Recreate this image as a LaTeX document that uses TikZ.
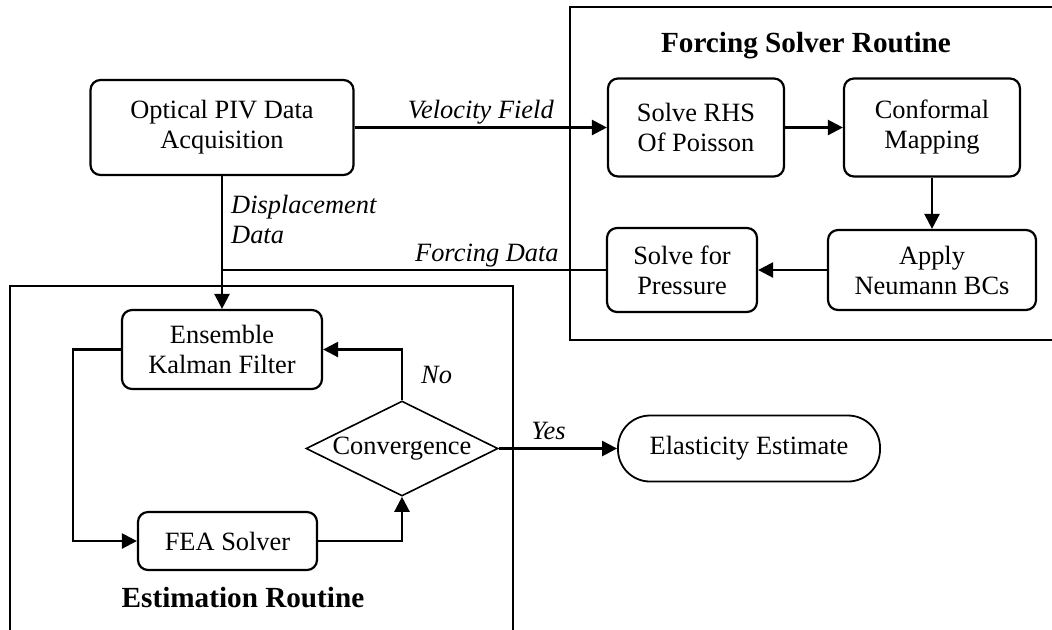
\documentclass[tikz,border=0pt]{standalone}
\usepackage{fontspec}
\setmainfont{Liberation Serif}
\usetikzlibrary{shapes.geometric,arrows.meta}

\begin{document}
\begin{tikzpicture}[x=0.5pt,y=-0.5pt,
  font=\fontsize{13.2}{15}\selectfont,
  line width=1.2pt,
  block/.style={draw,line width=1.1pt,rounded corners=5pt,align=center,inner sep=2pt},
  decision/.style={draw,diamond,aspect=2,inner sep=0pt,line width=0.8pt,
    minimum width=96pt,minimum height=47.5pt},
  terminal/.style={draw,line width=0.9pt,rounded corners=16pt,
    minimum width=131pt,minimum height=33pt},
  group/.style={draw,line width=1.1pt},
  title/.style={font=\fontsize{14.6}{17}\selectfont\bfseries},
  lbl/.style={font=\fontsize{13.2}{15}\selectfont\itshape,inner sep=1pt},
  flow/.style={-{Triangle[length=7.5pt,width=7.5pt]}}]
  \useasboundingbox (0,0) rectangle (1052,629);
  \clip (0,0) rectangle (1052,629);

  \draw[group] (570,7) rectangle (1070,340);
  \draw[group] (10,286) rectangle (513,650);
  \node[title] (ftitle) at (806,46) {Forcing Solver Routine};
  \node[title] (etitle) at (243,598) {Estimation Routine};

  \node[block,minimum width=131.5pt,minimum height=47.5pt] (piv) at (222,127.5) {Optical PIV Data\\Acquisition};
  \node[block,minimum width=88pt,minimum height=49pt] (rhs) at (696,127.5) {Solve RHS\\Of Poisson};
  \node[block,minimum width=88pt,minimum height=49pt] (conf) at (932,127.5) {Conformal\\Mapping};
  \node[block,minimum width=104pt,minimum height=40pt] (neum) at (932,270) {Apply\\Neumann BCs};
  \node[block,minimum width=75pt,minimum height=42pt] (pres) at (682,270) {Solve for\\Pressure};
  \node[block,minimum width=100pt,minimum height=39.5pt] (enkf) at (222,349.5) {Ensemble\\Kalman Filter};
  \node[block,minimum width=89.5pt,minimum height=29pt] (fea) at (227.5,541) {FEA Solver};
  \node[decision] (conv) at (402,448.5) {Convergence};
  \node[terminal] (elast) at (749,448.5) {Elasticity Estimate};

  \coordinate (fjoin) at (piv.south |- pres.west);

  \draw[flow] (piv.east) -- node[lbl,above] {Velocity Field} (rhs.west);
  \draw[flow] (rhs) -- (conf);
  \draw[flow] (conf) -- (neum);
  \draw[flow] (neum) -- (pres);
  \draw (pres.west) -- node[lbl,above,pos=0.31] {Forcing Data} (fjoin);
  \draw[flow] (piv.south) -- node[lbl,right,align=left,pos=0.33,xshift=3pt] {Displacement\\Data} (enkf.north);
  \draw[flow] (enkf.west) -- ++(-48,0) |- (fea.west);
  \draw[flow] (fea.east) -| (conv.south);
  \draw[flow] (conv.north) |- node[lbl,right,pos=0.25,xshift=8pt] {No} (enkf.east);
  \draw[flow] (conv.east) -- node[lbl,above,pos=0.42,yshift=3pt] {Yes} (elast.west);
\end{tikzpicture}
\end{document}
